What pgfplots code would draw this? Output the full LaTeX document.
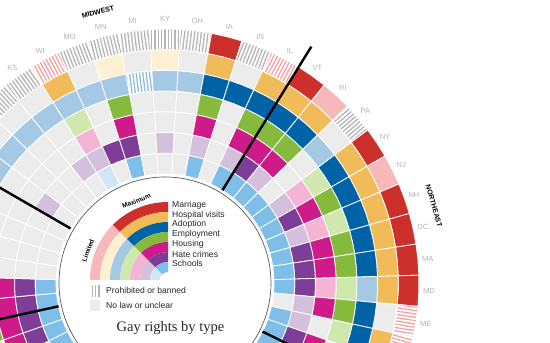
\documentclass[border=0pt]{standalone}
\usepackage{fontspec}
\setmainfont{Liberation Sans}
\newfontfamily\titlefont{Liberation Serif}
\usepackage{pgfplots}
\pgfplotsset{compat=1.18}
\usepackage{pgfplotstable}
\usetikzlibrary{patterns.meta}

\definecolor{nolaw}{HTML}{ECECEC}
\definecolor{hatchgray}{HTML}{B4B4B4}
\definecolor{labgray}{HTML}{B3B3B3}
\definecolor{D1}{HTML}{CD2F2A}\definecolor{L1}{HTML}{F8B7B8}\definecolor{H1}{HTML}{F5A0A3}
\definecolor{D2}{HTML}{F2BB5A}\definecolor{L2}{HTML}{FDF0D3}\definecolor{H2}{HTML}{F2D49A}
\definecolor{D3}{HTML}{0063A7}\definecolor{L3}{HTML}{A5C9E4}\definecolor{H3}{HTML}{8DBBE0}
\definecolor{D4}{HTML}{86BA3D}\definecolor{L4}{HTML}{D0E7AE}\definecolor{H4}{HTML}{B5D98A}
\definecolor{D5}{HTML}{CF1A8A}\definecolor{L5}{HTML}{F5B4D4}\definecolor{H5}{HTML}{EE93C2}
\definecolor{D6}{HTML}{7E3D96}\definecolor{L6}{HTML}{D4BFDD}\definecolor{H6}{HTML}{BFA2CD}
\definecolor{D7}{HTML}{7EBEE8}\definecolor{L7}{HTML}{D0E6F5}\definecolor{H7}{HTML}{B0D5EE}

% j = state position (0 = KY at top, clockwise positive)
% r1 Marriage, r2 Hospital visits, r3 Adoption, r4 Employment, r5 Housing, r6 Hate crimes, r7 Schools
% 0 no law, 1 limited, 2 maximum, 3 prohibited, 4 limited + prohibited
\pgfplotstableread{
j   r1 r2 r3 r4 r5 r6 r7
-17 0  0  0  0  0  0  2
-16 0  0  0  0  2  2  2
-15 0  0  0  2  2  2  2
-14 0  0  0  0  2  2  2
-13 0  0  0  0  2  2  2
-12 0  0  0  0  0  0  0
-11 0  0  0  0  0  0  0
-10 0  0  0  0  0  0  0
-9  0  0  0  0  0  0  0
-8  3  0  1  0  0  1  0
-7  3  0  1  0  0  0  0
-6  3  0  1  0  0  0  0
-5  3  0  1  0  0  1  0
-4  4  2  1  1  1  1  1
-3  3  0  1  0  0  2  0
-2  3  1  1  2  2  2  2
-1  3  0  4  0  0  0  0
0   3  1  1  0  0  1  0
1   3  0  1  0  0  0  0
2   2  2  2  2  2  1  2
3   3  0  2  0  0  0  0
4   4  2  2  2  2  1  2
5   2  2  2  2  2  2  2
6   1  2  2  2  2  1  2
7   3  0  1  0  0  0  2
8   2  2  2  1  1  1  2
9   1  2  2  2  2  2  2
10  2  2  2  1  1  1  2
11  2  2  2  2  2  2  2
12  2  2  2  2  2  2  2
13  2  2  1  1  1  2  2
14  4  0  2  2  2  1  0
15  4  2  2  1  0  1  2
16  0  0  0  0  2  2  2
17  0  0  0  0  0  0  2
}\cells

\pgfplotstableread{
th     r   lab
125.29 264 KS
118.24 264 WI
111.18 264 MO
104.12 264 MN
97.06  264 MI
90.00  264 KY
82.94  264 OH
75.88  264 IA
68.82  264 IN
61.76  264 IL
54.71  264 VT
47.65  264 RI
40.59  264 PA
33.53  264 NY
26.47  264 NJ
19.41  264 NH
12.35  264 DC
5.29   264 MA
-1.76  264 MD
-8.82  264 ME
}\statelabels

\pgfplotstablegetrowsof{\cells}
\pgfmathtruncatemacro{\nrows}{\pgfplotsretval-1}

\newcommand\docell[1]{%
  \pgfplotstablegetelem{\row}{r#1}\of{\cells}%
  \edef\code{\pgfplotsretval}%
  \pgfmathsetmacro{\ro}{254-20.714*(#1-1)}%
  \pgfmathsetmacro{\ri}{\ro-20.714}%
  \def\ishatch{0}%
  \ifcase\code\relax \def\fc{nolaw}%
  \or \def\fc{L#1}%
  \or \def\fc{D#1}%
  \or \def\fc{white}\def\ishatch{1}\def\hc{hatchgray}%
  \or \def\fc{white}\def\ishatch{1}\def\hc{H#1}%
  \fi
  \if1\ishatch
    \edef\temp{\noexpand\addplot[data cs=polar, preaction={fill=white}, pattern={Lines[angle=\tc,distance=3.3pt,line width=1.3pt]}, pattern color=\hc, draw=white, line width=0.8pt] coordinates {(\ta,\ri) (\tc,\ri) (\tb,\ri) (\tb,\ro) (\tc,\ro) (\ta,\ro)} -- cycle;}%
  \else
    \edef\temp{\noexpand\addplot[data cs=polar, fill=\fc, draw=white, line width=0.8pt] coordinates {(\ta,\ri) (\tc,\ri) (\tb,\ri) (\tb,\ro) (\tc,\ro) (\ta,\ro)} -- cycle;}%
  \fi
  \temp
}

\begin{document}
\begin{tikzpicture}
\begin{axis}[x=1pt, y=1pt, xmin=-165, xmax=385, ymin=-60, ymax=283,
  hide axis, clip=true]
\pgfplotsforeachungrouped \row in {0,...,\nrows}{%
  \pgfplotstablegetelem{\row}{j}\of{\cells}%
  \pgfmathsetmacro{\tc}{90-7.0588*\pgfplotsretval}%
  \pgfmathsetmacro{\ta}{\tc+3.5294}%
  \pgfmathsetmacro{\tb}{\tc-3.5294}%
  \docell{1}\docell{2}\docell{3}\docell{4}\docell{5}\docell{6}\docell{7}%
}

% region dividers
\addplot[data cs=polar, black, line width=2.4pt] coordinates {(58.24,109) (58.24,278)};
\addplot[data cs=polar, black, line width=2.4pt] coordinates {(150.0,109) (150.0,278)};
\addplot[data cs=polar, black, line width=2.4pt] coordinates {(192.35,109) (192.35,278)};
\addplot[data cs=polar, black, line width=2.4pt] coordinates {(-26.47,109) (-26.47,278)};

% state labels
\addplot[data cs=polar, only marks, mark=none, point meta=explicit symbolic,
  nodes near coords, nodes near coords style={anchor=center, inner sep=0pt,
  font=\fontsize{7.5}{8}\selectfont, text=labgray}]
  table[x=th, y=r, meta=lab] {\statelabels};

\node[rotate=14, inner sep=0pt, font=\bfseries\fontsize{7}{8}\selectfont] at (axis cs:-67,271) {MIDWEST};
\node[rotate=-74, inner sep=0pt, font=\bfseries\fontsize{7}{8}\selectfont] at (axis cs:269,77) {NORTHEAST};

% centre disk with the key
\fill[white] (axis cs:0,0) circle[radius=106pt];
\draw[black!65, line width=0.7pt] (axis cs:0,0) circle[radius=106pt];

\pgfplotsinvokeforeach{1,...,7}{%
  \fill[L#1] (axis cs:3,3) ++(180:{(88-10*#1)*1pt}) arc[start angle=180, end angle=135, radius={(88-10*#1)*1pt}] -- ++(315:10pt) arc[start angle=135, end angle=180, radius={(78-10*#1)*1pt}] -- cycle;
  \fill[D#1] (axis cs:3,3) ++(135:{(88-10*#1)*1pt}) arc[start angle=135, end angle=90, radius={(88-10*#1)*1pt}] -- ++(270:10pt) arc[start angle=90, end angle=135, radius={(78-10*#1)*1pt}] -- cycle;
}
\node[rotate=22, inner sep=0pt, font=\bfseries\fontsize{6.5}{7}\selectfont] at (axis cs:-28.5,82) {Maximum};
\node[rotate=70, inner sep=0pt, font=\bfseries\fontsize{6.5}{7}\selectfont] at (axis cs:-77,32.5) {Limited};

\begin{scope}[every node/.style={anchor=west, inner sep=0pt, text=black!85, font=\fontsize{8.6}{9}\selectfont}]
\node at (axis cs:7,78) {Marriage};
\node at (axis cs:7,68.2) {Hospital visits};
\node at (axis cs:7,58.4) {Adoption};
\node at (axis cs:7,48.6) {Employment};
\node at (axis cs:7,38.8) {Housing};
\node at (axis cs:7,29) {Hate crimes};
\node at (axis cs:7,19.2) {Schools};
\node at (axis cs:-59,-7.7) {Prohibited or banned};
\node at (axis cs:-59,-22) {No law or unclear};
\end{scope}
\fill[pattern={Lines[angle=90,distance=3.3pt,line width=1.2pt]}, pattern color=hatchgray] (axis cs:-75,-14) rectangle (axis cs:-65,-3);
\fill[nolaw] (axis cs:-75,-28) rectangle (axis cs:-65,-17);

\node[inner sep=0pt, font=\titlefont\fontsize{14.5}{16}\selectfont, text=black!85] at (axis cs:5.5,-45) {Gay rights by type};
\end{axis}
\pgfresetboundingbox
\path (current axis.south west) rectangle (current axis.north east);
\end{tikzpicture}
\end{document}
